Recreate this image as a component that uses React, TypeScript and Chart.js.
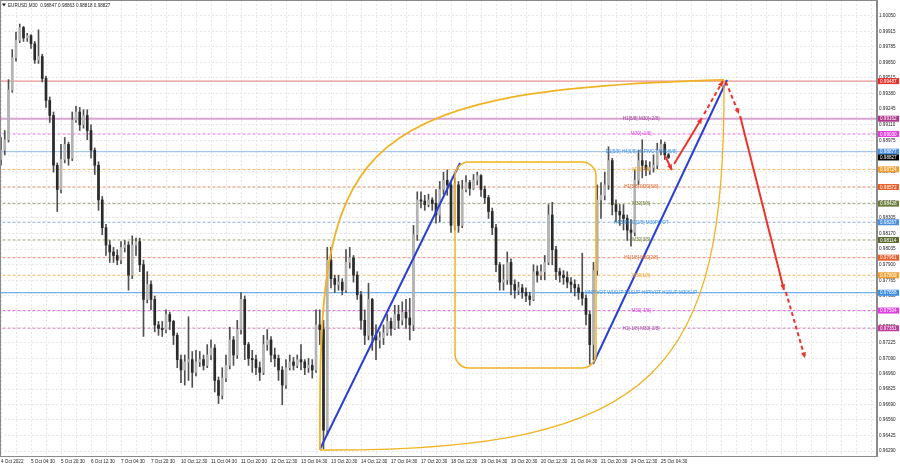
import React, { useEffect, useRef } from 'react';
import { Chart, registerables } from 'chart.js';

Chart.register(...registerables);

// ---------- data ----------
const symbolName = 'EURUSD,M30';
const headerOHLC = [0.98847, 0.98863, 0.98818, 0.98827];

const xTickLabels = [
  '4 Oct 2022', '5 Oct 04:30', '5 Oct 20:30', '6 Oct 12:30', '7 Oct 04:30', '7 Oct 20:30',
  '10 Oct 12:30', '11 Oct 04:30', '11 Oct 20:30', '12 Oct 12:30', '13 Oct 04:30', '13 Oct 20:30',
  '14 Oct 12:30', '17 Oct 04:30', '17 Oct 20:30', '18 Oct 12:30', '19 Oct 04:30', '19 Oct 20:30',
  '20 Oct 12:30', '21 Oct 04:30', '21 Oct 20:30', '24 Oct 12:30', '25 Oct 04:30',
];

const yTickValues = [
  0.9629, 0.96425, 0.9656, 0.9669, 0.96825, 0.9696, 0.9709, 0.97225, 0.9736, 0.97495,
  0.9763, 0.97765, 0.979, 0.98035, 0.9817, 0.98305, 0.9844, 0.9857, 0.98705, 0.9884,
  0.98975, 0.9911, 0.99245, 0.9938, 0.99515, 0.9965, 0.99785, 0.99915, 1.0005,
];

const firstOpen = 0.9881;
const closes = [
  0.9889, 0.9898, 0.9941, 0.9969, 0.9984, 0.9995, 0.9986, 0.9988, 0.9981, 0.9967,
  0.997, 0.9951, 0.9932, 0.9919, 0.9876, 0.9855, 0.9881, 0.9894, 0.9882, 0.9915,
  0.9922, 0.9911, 0.9919, 0.9906, 0.9889, 0.9876, 0.9846, 0.9822, 0.9807, 0.9801,
  0.9798, 0.9794, 0.9805, 0.9807, 0.9781, 0.9807, 0.981, 0.979, 0.976, 0.9773,
  0.976, 0.9738, 0.9735, 0.9734, 0.9747, 0.9741, 0.9729, 0.9708, 0.9699, 0.9706,
  0.9708, 0.9697, 0.9706, 0.9708, 0.9703, 0.9712, 0.9718, 0.969, 0.9677, 0.9692,
  0.9703, 0.9725, 0.9712, 0.9734, 0.976, 0.9721, 0.9709, 0.9708, 0.9701, 0.9697,
  0.9721, 0.9725, 0.9712, 0.9709, 0.9699, 0.9686, 0.9701, 0.9706, 0.9703, 0.9708,
  0.9706, 0.9701, 0.9703, 0.9699, 0.9738, 0.9734, 0.9647, 0.9794, 0.9778, 0.9773,
  0.9775, 0.9768, 0.9792, 0.9796, 0.9781, 0.9764, 0.9742, 0.9729, 0.976, 0.9729,
  0.9725, 0.9727, 0.9731, 0.9741, 0.9735, 0.9747, 0.9742, 0.9749, 0.9744, 0.9738,
  0.9816, 0.9846, 0.9845, 0.9842, 0.9846, 0.9843, 0.9833, 0.9855, 0.9863, 0.9859,
  0.9824, 0.9859, 0.9824, 0.9855, 0.9861, 0.9856, 0.9863, 0.9867, 0.9855, 0.9848,
  0.9836, 0.9822, 0.979, 0.9775, 0.9777, 0.9792, 0.9773, 0.9768, 0.977, 0.9766,
  0.9763, 0.976, 0.9784, 0.9781, 0.9784, 0.9792, 0.9833, 0.9803, 0.9784, 0.9781,
  0.9779, 0.9775, 0.9773, 0.977, 0.9766, 0.9761, 0.9747, 0.9721, 0.9785, 0.9846,
  0.985, 0.9859, 0.988, 0.9842, 0.9836, 0.9833, 0.983, 0.982, 0.9818, 0.9863,
  0.988, 0.9876, 0.9872, 0.9874, 0.9876, 0.9889, 0.9894, 0.9885, 0.98827,
];
const highs = [
  0.99, 0.9906, 0.995, 0.9976, 0.9991, 0.9998, 0.9996, 0.999, 0.9989, 0.9983,
  0.9993, 0.9972, 0.9953, 0.9935, 0.9922, 0.9878, 0.9894, 0.99, 0.9896, 0.9922,
  0.9927, 0.9926, 0.9924, 0.9924, 0.9911, 0.9891, 0.9879, 0.9849, 0.9825, 0.9811,
  0.9805, 0.9803, 0.981, 0.9811, 0.981, 0.9815, 0.9813, 0.9813, 0.9794, 0.9784,
  0.9776, 0.9763, 0.9741, 0.9741, 0.9751, 0.9749, 0.9742, 0.9731, 0.9712, 0.9712,
  0.9745, 0.9715, 0.9716, 0.9715, 0.9712, 0.9721, 0.9725, 0.9721, 0.9693, 0.9701,
  0.9712, 0.9736, 0.9728, 0.9742, 0.9766, 0.9763, 0.9723, 0.9716, 0.9712, 0.9706,
  0.9729, 0.9734, 0.9728, 0.9718, 0.9712, 0.9702, 0.9708, 0.9712, 0.971, 0.9712,
  0.9721, 0.9708, 0.9709, 0.9708, 0.9751, 0.9751, 0.9742, 0.9805, 0.9805, 0.9781,
  0.9781, 0.9778, 0.9803, 0.9805, 0.9798, 0.9784, 0.9767, 0.9751, 0.9774, 0.9761,
  0.9738, 0.9732, 0.9738, 0.9747, 0.9744, 0.9755, 0.9755, 0.9758, 0.976, 0.9761,
  0.9824, 0.9853, 0.9853, 0.985, 0.9851, 0.9848, 0.9855, 0.9862, 0.987, 0.9872,
  0.9862, 0.9865, 0.9862, 0.9863, 0.9867, 0.9863, 0.9868, 0.987, 0.9868, 0.9858,
  0.985, 0.9839, 0.9825, 0.9792, 0.979, 0.9801, 0.9795, 0.9777, 0.9775, 0.9773,
  0.977, 0.9766, 0.979, 0.9789, 0.979, 0.9798, 0.9842, 0.9844, 0.9806, 0.9787,
  0.9785, 0.9784, 0.9779, 0.9777, 0.9773, 0.98, 0.9764, 0.975, 0.9792, 0.9859,
  0.9861, 0.987, 0.9892, 0.9882, 0.9846, 0.9842, 0.9842, 0.9833, 0.9829, 0.9872,
  0.9889, 0.9898, 0.988, 0.9879, 0.9885, 0.9895, 0.9898, 0.9896, 0.98863,
];
const lows = [
  0.9876, 0.9885, 0.9896, 0.9939, 0.9966, 0.9982, 0.9983, 0.9983, 0.9977, 0.9964,
  0.9964, 0.9948, 0.9926, 0.9913, 0.987, 0.9836, 0.9852, 0.9878, 0.9876, 0.988,
  0.9913, 0.9906, 0.9908, 0.9898, 0.9882, 0.9868, 0.9837, 0.9816, 0.9798, 0.9792,
  0.9792, 0.979, 0.9791, 0.9801, 0.9768, 0.9778, 0.9798, 0.9784, 0.9728, 0.9757,
  0.9751, 0.9732, 0.9729, 0.9728, 0.9731, 0.9734, 0.9721, 0.9701, 0.9688, 0.9686,
  0.969, 0.9684, 0.9694, 0.9702, 0.9699, 0.9701, 0.9708, 0.968, 0.967, 0.9674,
  0.9689, 0.97, 0.9703, 0.9709, 0.973, 0.9708, 0.9703, 0.9697, 0.9695, 0.969,
  0.9695, 0.9716, 0.9706, 0.9702, 0.969, 0.9669, 0.9683, 0.9699, 0.9699, 0.9701,
  0.9699, 0.9695, 0.9697, 0.9692, 0.9697, 0.9721, 0.9631, 0.9643, 0.977, 0.9766,
  0.9768, 0.9764, 0.9766, 0.9787, 0.9775, 0.976, 0.9734, 0.9721, 0.9725, 0.9716,
  0.9708, 0.9718, 0.9721, 0.9729, 0.9729, 0.9734, 0.9735, 0.9738, 0.9735, 0.9725,
  0.9733, 0.9811, 0.9839, 0.9837, 0.984, 0.9837, 0.9826, 0.9827, 0.9851, 0.985,
  0.9818, 0.982, 0.9818, 0.9822, 0.9853, 0.985, 0.9855, 0.9859, 0.9849, 0.9843,
  0.983, 0.9816, 0.9784, 0.9768, 0.9768, 0.9773, 0.9764, 0.9761, 0.9764, 0.9761,
  0.9758, 0.9755, 0.9759, 0.9775, 0.9777, 0.9777, 0.979, 0.979, 0.9777, 0.9775,
  0.9773, 0.977, 0.9766, 0.9763, 0.976, 0.9755, 0.9738, 0.9704, 0.9708, 0.9781,
  0.983, 0.9846, 0.9855, 0.9833, 0.9827, 0.9824, 0.982, 0.9811, 0.9806, 0.9815,
  0.9859, 0.9865, 0.9867, 0.9868, 0.987, 0.9873, 0.9885, 0.9881, 0.98818,
];

// horizontal levels (price, label)
const levelPrices = [0.99487, 0.99162, 0.9903, 0.98877, 0.98724, 0.98572, 0.98428, 0.98267, 0.98114, 0.97961, 0.97809, 0.97658, 0.97504, 0.97351];
const levelTexts = [
  '', 'H1[5/8] M30[+2/8]', 'M30[+1/8]', 'D1[5/8] H4[6/8] H1PIVOT M30[8/8]', 'M30[7/8]',
  'H1[3/8] M30[6/8]', 'M30[5/8]', 'H4[5/8] H1[2/8] M30PIVOT', 'M30[3/8]', 'H1[1/8] M30[2/8]',
  'M30[1/8]', 'MNPIVOT W1SUP D1SUP H4PIVOT H1SUP M30SUP', 'M30[-1/8]', 'H1[-1/8] M30[-2/8]',
];
const currentPrice = 0.98827;

// drawn objects, anchored as (bar index, price)
const trendLines = [
  [85.07, 0.96307, 122.4, 0.98779],
  [157.87, 0.97042, 193.6, 0.99497],
];
const arrowLines = [
  [179.5, 0.98771, 186.9, 0.99168, 0],
  [187.5, 0.99203, 192.5, 0.99488, 1],
  [177.1, 0.9884, 178.9, 0.98719, 0],
  [193.3, 0.9948, 196.8, 0.99203, 1],
  [197.1, 0.99186, 208.8, 0.97682, 0],
  [209.3, 0.97664, 214.4, 0.97094, 1],
];
const lensTop = [[85.07, 0.96299], [84.53, 0.98892], [90.4, 0.9941], [192.8, 0.99497]];
const lensBottom = [[85.07, 0.96299], [175.73, 0.96282], [193.33, 0.9699], [192.8, 0.99497]];
const boxRange = [121.07, 0.98788, 158.67, 0.97008];
const levelTextAnchor = 170.7;

// ---------- styles / layout ----------
const X_MIN = -0.267;
const X_MAX = 233.6;
const Y_MIN = 0.96247;
const Y_MAX = 1.00188;
const FONT = 'Liberation Sans, Arial, sans-serif';
const FS = 4.6;
const levelLineColors = ['#e27a78', '#d9a3cf', '#e46fe4', '#8fbbe8', '#f0b764', '#e99372', '#9dab72', '#84b1e6', '#9dab72', '#e99372', '#f0b764', '#4f9be6', '#e46fe4', '#d486c4'];
const levelBoxColors = ['#e8302a', '#b0358c', '#e23ee2', '#4a8fe0', '#f0a030', '#e8602c', '#6b7d3a', '#4a8fe0', '#5a6b32', '#e8602c', '#f0a030', '#3d8fe6', '#e23ee2', '#c03c9c'];
const levelTextColors = ['#e8302a', '#a0409a', '#e040e0', '#3d8fe0', '#f0a030', '#e0602c', '#6b7d3a', '#3d8fe0', '#6b7d3a', '#e0602c', '#f0a030', '#3d8fe0', '#e040e0', '#a0409a'];
const levelDashed = [false, false, true, false, true, true, true, true, true, true, true, false, true, true];
const levelWidths = [1, 2, 1, 1, 1, 1, 1, 1, 1, 1, 1, 1, 1, 1];

const overlayPlugin = {
  id: 'mtOverlay',
  afterDatasetsDraw(chart: any) {
    const { ctx, chartArea: ca, scales } = chart;
    const xs = scales.x;
    const ys = scales.y;
    const px = (v: number) => xs.getPixelForValue(v);
    const py = (v: number) => ys.getPixelForValue(v);

    ctx.save();
    ctx.beginPath();
    ctx.rect(ca.left, ca.top, ca.right - ca.left, ca.bottom - ca.top);
    ctx.clip();

    // lens curves
    ctx.strokeStyle = '#f0b323';
    ctx.setLineDash([]);
    [lensTop, lensBottom].forEach((c, k) => {
      ctx.lineWidth = k === 0 ? 1.8 : 1.3;
      ctx.beginPath();
      ctx.moveTo(px(c[0][0]), py(c[0][1]));
      ctx.bezierCurveTo(px(c[1][0]), py(c[1][1]), px(c[2][0]), py(c[2][1]), px(c[3][0]), py(c[3][1]));
      ctx.stroke();
    });

    // rounded box
    const bx0 = px(boxRange[0]);
    const by0 = py(boxRange[1]);
    const bx1 = px(boxRange[2]);
    const by1 = py(boxRange[3]);
    const r = 14;
    ctx.lineWidth = 1.5;
    ctx.beginPath();
    ctx.moveTo(bx0 + r, by0);
    ctx.arcTo(bx1, by0, bx1, by1, r);
    ctx.arcTo(bx1, by1, bx0, by1, r);
    ctx.arcTo(bx0, by1, bx0, by0, r);
    ctx.arcTo(bx0, by0, bx1, by0, r);
    ctx.closePath();
    ctx.stroke();

    // red arrows
    ctx.strokeStyle = '#e8352e';
    ctx.fillStyle = '#e8352e';
    arrowLines.forEach((a) => {
      const x1 = px(a[0]);
      const y1 = py(a[1]);
      const x2 = px(a[2]);
      const y2 = py(a[3]);
      ctx.lineWidth = 2;
      ctx.setLineDash(a[4] ? [4, 3] : []);
      ctx.beginPath();
      ctx.moveTo(x1, y1);
      ctx.lineTo(x2, y2);
      ctx.stroke();
      ctx.setLineDash([]);
      const ang = Math.atan2(y2 - y1, x2 - x1);
      const L = 6;
      const W = 0.45;
      ctx.beginPath();
      ctx.moveTo(x2, y2);
      ctx.lineTo(x2 - L * Math.cos(ang - W), y2 - L * Math.sin(ang - W));
      ctx.lineTo(x2 - L * Math.cos(ang + W), y2 - L * Math.sin(ang + W));
      ctx.closePath();
      ctx.fill();
    });

    // level texts
    ctx.font = `${FS}px ${FONT}`;
    ctx.textAlign = 'center';
    ctx.textBaseline = 'middle';
    levelPrices.forEach((p, i) => {
      if (!levelTexts[i]) return;
      ctx.fillStyle = levelTextColors[i];
      ctx.fillText(levelTexts[i], px(levelTextAnchor), py(p));
    });
    ctx.restore();

    // frame
    ctx.save();
    ctx.strokeStyle = '#8a8a8a';
    ctx.lineWidth = 1;
    ctx.strokeRect(ca.left + 0.5, ca.top + 0.5, ca.right - ca.left - 1, ca.bottom - ca.top);
    ctx.restore();

    // price boxes on the axis
    ctx.save();
    ctx.font = `${FS}px ${FONT}`;
    ctx.textAlign = 'left';
    ctx.textBaseline = 'middle';
    const drawBox = (p: number, col: string) => {
      const y = py(p);
      ctx.fillStyle = col;
      ctx.fillRect(ca.right + 1, y - 3, 21, 6);
      ctx.fillStyle = '#ffffff';
      ctx.fillText(p.toFixed(5), ca.right + 3, y + 0.3);
    };
    levelPrices.forEach((p, i) => drawBox(p, levelBoxColors[i]));
    drawBox(currentPrice, '#000000');
    ctx.restore();

    // header
    ctx.save();
    ctx.fillStyle = '#222';
    ctx.beginPath();
    ctx.moveTo(2, 3.5);
    ctx.lineTo(6, 3.5);
    ctx.lineTo(4, 6.5);
    ctx.closePath();
    ctx.fill();
    ctx.font = `${FS}px ${FONT}`;
    ctx.textAlign = 'left';
    ctx.textBaseline = 'middle';
    ctx.fillText(`${symbolName}  ${headerOHLC.map((v) => v.toFixed(5)).join(' ')}`, 8, 5.5);
    ctx.restore();
  },
};

export default function App() {
  const ref = useRef<HTMLCanvasElement>(null);

  useEffect(() => {
    document.body.style.margin = '0';
    document.body.style.background = '#ffffff';
    const canvas = ref.current;
    if (!canvas) return;

    const opens = closes.map((c, i) => (i === 0 ? firstOpen : closes[i - 1]));
    const wickData = closes.map((c, i) => ({ x: i, y: [lows[i], highs[i]] }));
    const bodyData = closes.map((c, i) => ({ x: i, y: [opens[i], c] }));
    const bodyColors = closes.map((c, i) => (c >= opens[i] ? '#b4b4b4' : '#2a2a2a'));

    const levelSets = levelPrices.map((p, i) => ({
      type: 'line' as const,
      data: [{ x: X_MIN - 2, y: p }, { x: X_MAX + 2, y: p }],
      borderColor: levelLineColors[i],
      borderWidth: levelWidths[i],
      borderDash: levelDashed[i] ? [3, 2] : [],
      pointRadius: 0,
      order: 20,
    }));

    const trendSets = trendLines.map((t) => ({
      type: 'line' as const,
      data: [{ x: t[0], y: t[1] }, { x: t[2], y: t[3] }],
      borderColor: '#2c3fd3',
      borderWidth: 2,
      pointRadius: 0,
      order: 1,
    }));

    const chart = new Chart(canvas, {
      type: 'line',
      data: {
        datasets: [
          ...levelSets,
          {
            type: 'bar' as const,
            data: wickData as any,
            backgroundColor: '#505050',
            barThickness: 1,
            grouped: false,
            order: 6,
          },
          {
            type: 'bar' as const,
            data: bodyData as any,
            backgroundColor: bodyColors,
            barThickness: 2,
            grouped: false,
            order: 5,
          },
          ...trendSets,
        ] as any,
      },
      options: {
        responsive: false,
        animation: false,
        devicePixelRatio: 1,
        layout: { padding: 0 },
        plugins: { legend: { display: false }, tooltip: { enabled: false } },
        scales: {
          x: {
            type: 'linear',
            min: X_MIN,
            max: X_MAX,
            offset: false,
            grid: { offset: false, color: '#e6e6e6', drawTicks: false },
            border: { display: true, color: '#8a8a8a', dash: [2, 2] },
            afterBuildTicks: (scale: any) => {
              const t = [];
              for (let v = 0; v <= 232; v += 4) t.push({ value: v });
              scale.ticks = t;
            },
            afterFit: (scale: any) => {
              scale.height = 12;
              scale.paddingLeft = 0;
              scale.paddingRight = 0;
            },
            ticks: {
              autoSkip: false,
              maxRotation: 0,
              minRotation: 0,
              align: 'start',
              padding: 3,
              color: '#222',
              font: { family: FONT, size: FS },
              callback: (v: any) => (v % 8 === 0 && xTickLabels[v / 8] ? xTickLabels[v / 8] : ''),
            },
          },
          y: {
            type: 'linear',
            position: 'right',
            min: Y_MIN,
            max: Y_MAX,
            beginAtZero: false,
            grid: { color: '#e6e6e6', drawTicks: false },
            border: { display: true, color: '#8a8a8a', dash: [2, 2] },
            afterBuildTicks: (scale: any) => {
              scale.ticks = yTickValues.map((v) => ({ value: v }));
            },
            afterFit: (scale: any) => {
              scale.width = 23;
              scale.paddingTop = 0;
              scale.paddingBottom = 0;
            },
            ticks: {
              autoSkip: false,
              padding: 2,
              crossAlign: 'near',
              color: '#222',
              font: { family: FONT, size: FS },
              callback: (v: any) => Number(v).toFixed(5),
            },
          },
        },
      } as any,
      plugins: [overlayPlugin],
    });

    return () => chart.destroy();
  }, []);

  return (
    <div style={{ width: 900, height: 468 }}>
      <canvas ref={ref} width={900} height={468} style={{ display: 'block', width: 900, height: 468 }} />
    </div>
  );
}
